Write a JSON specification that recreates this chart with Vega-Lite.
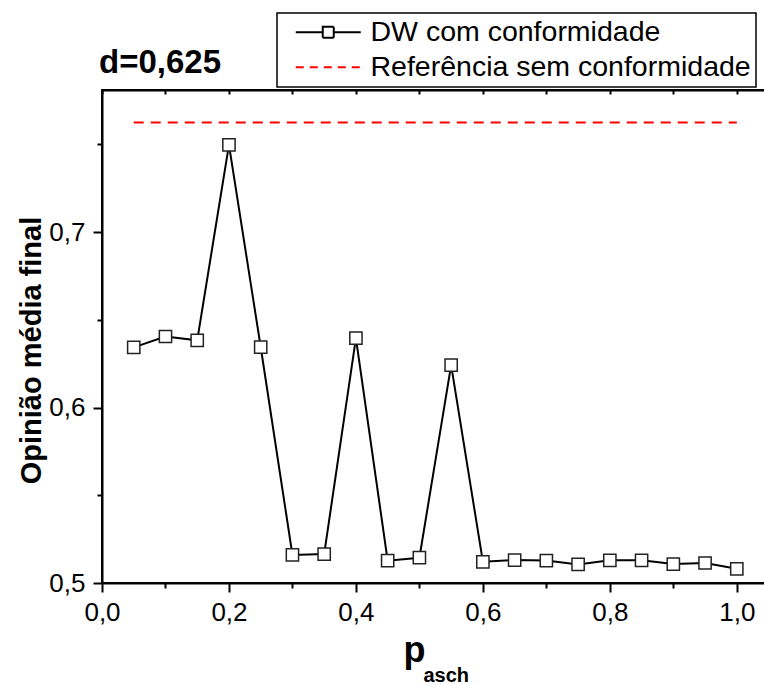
{
  "$schema": "https://vega.github.io/schema/vega-lite/v6.json",
  "autosize": {"type": "none"},
  "width": 664,
  "height": 493,
  "padding": {"left": 102, "top": 90, "right": 0, "bottom": 101},
  "background": "white",
  "config": {
    "font": "Liberation Sans",
    "view": {"stroke": "black", "strokeWidth": 2},
    "axis": {
      "domainColor": "black",
      "domainWidth": 2,
      "tickColor": "black",
      "tickWidth": 2,
      "grid": false,
      "labelFont": "Liberation Sans",
      "labelFontSize": 26,
      "labelColor": "black",
      "titleColor": "black",
      "titleFont": "Liberation Sans",
      "titleFontWeight": "bold"
    }
  },
  "title": {
    "text": "d=0,625",
    "anchor": "start",
    "frame": "group",
    "fontSize": 33,
    "fontWeight": "bold",
    "font": "Liberation Sans",
    "color": "black",
    "baseline": "alphabetic",
    "offset": 15,
    "dx": -3,
    "dy": 109
  },
  "datasets": {
    "dw": [
      {"p": 0.05, "y": 0.6343, "serie": "DW com conformidade"},
      {"p": 0.10, "y": 0.6405, "serie": "DW com conformidade"},
      {"p": 0.15, "y": 0.6383, "serie": "DW com conformidade"},
      {"p": 0.20, "y": 0.7497, "serie": "DW com conformidade"},
      {"p": 0.25, "y": 0.6345, "serie": "DW com conformidade"},
      {"p": 0.30, "y": 0.5160, "serie": "DW com conformidade"},
      {"p": 0.35, "y": 0.5165, "serie": "DW com conformidade"},
      {"p": 0.40, "y": 0.6396, "serie": "DW com conformidade"},
      {"p": 0.45, "y": 0.5127, "serie": "DW com conformidade"},
      {"p": 0.50, "y": 0.5144, "serie": "DW com conformidade"},
      {"p": 0.55, "y": 0.6242, "serie": "DW com conformidade"},
      {"p": 0.60, "y": 0.5121, "serie": "DW com conformidade"},
      {"p": 0.65, "y": 0.5131, "serie": "DW com conformidade"},
      {"p": 0.70, "y": 0.5128, "serie": "DW com conformidade"},
      {"p": 0.75, "y": 0.5106, "serie": "DW com conformidade"},
      {"p": 0.80, "y": 0.5129, "serie": "DW com conformidade"},
      {"p": 0.85, "y": 0.5129, "serie": "DW com conformidade"},
      {"p": 0.90, "y": 0.5108, "serie": "DW com conformidade"},
      {"p": 0.95, "y": 0.5114, "serie": "DW com conformidade"},
      {"p": 1.00, "y": 0.5081, "serie": "DW com conformidade"}
    ],
    "ref": [
      {"p": 0.05, "y": 0.7625, "serie": "Referência sem conformidade"},
      {"p": 1.00, "y": 0.7625, "serie": "Referência sem conformidade"}
    ]
  },
  "resolve": {"axis": {"x": "independent"}},
  "layer": [
    {
      "data": {"name": "dw"},
      "mark": {"type": "line", "strokeWidth": 2, "clip": false},
      "encoding": {
        "x": {
          "field": "p", "type": "quantitative",
          "scale": {"domain": [0, 1.046], "nice": false, "zero": false},
          "axis": {
            "orient": "bottom",
            "values": [0, 0.2, 0.4, 0.6, 0.8, 1.0],
            "labelExpr": "replace(format(datum.value, '.1f'), '.', ',')",
            "tickSize": 9,
            "labelPadding": 7,
            "labelFlush": false,
            "labelOverlap": false,
            "title": "p",
            "titleFontSize": 36,
            "titleAlign": "center",
            "titleBaseline": "alphabetic",
            "titleX": 312,
            "titleY": 78
          }
        },
        "y": {
          "field": "y", "type": "quantitative",
          "scale": {"domain": [0.5, 0.781], "nice": false, "zero": false},
          "axis": {
            "values": [0.5, 0.55, 0.6, 0.65, 0.7, 0.75],
            "labelExpr": "round(datum.value*20) % 2 === 0 ? replace(format(datum.value, '.1f'), '.', ',') : ''",
            "tickSize": {"condition": {"test": "round(datum.value*20) % 2 === 0", "value": 9}, "value": 5},
            "labelPadding": 8,
            "labelFlush": false,
            "labelOverlap": false,
            "title": "Opinião média final",
            "titleFontSize": 29,
            "titleAngle": 270,
            "titleAlign": "center",
            "titleBaseline": "alphabetic",
            "titleX": -62,
            "titleY": 260
          }
        },
        "color": {
          "field": "serie", "type": "nominal",
          "scale": {"domain": ["DW com conformidade", "Referência sem conformidade"], "range": ["black", "#ff0000"]},
          "legend": {
            "title": null,
            "orient": "none",
            "legendX": 175,
            "legendY": -77,
            "padding": 5,
            "strokeColor": "black",
            "fillColor": "white",
            "labelFontSize": 28.5,
            "labelFont": "Liberation Sans",
            "labelColor": "black",
            "labelLimit": 500,
            "symbolSize": 400,
            "symbolStrokeWidth": 2,
            "symbolOffset": 32,
            "labelOffset": 28,
            "rowPadding": 6,
            "symbolType": "M-3.25,0H3.25",
            "encode": {
              "legend": {
                "update": {"strokeWidth": {"value": 1.5}}
              },
              "symbols": {
                "update": {
                  "shape": {"signal": "datum.value === 'DW com conformidade' ? 'M-3.25,0H-0.55M0.55,0H3.25M-0.55,-0.55H0.55V0.55H-0.55Z' : 'M-3.25,0H3.25'"},
                  "fill": {"value": "white"},
                  "strokeDash": {"signal": "datum.value === 'DW com conformidade' ? [1,0] : [8,6]"}
                }
              }
            }
          }
        }
      }
    },
    {
      "data": {"name": "dw"},
      "mark": {"type": "point", "shape": "square", "size": 150, "filled": true, "fill": "white", "stroke": "#222222", "strokeWidth": 1.5, "opacity": 1, "clip": false},
      "encoding": {
        "x": {"field": "p", "type": "quantitative", "axis": null},
        "y": {"field": "y", "type": "quantitative"}
      }
    },
    {
      "data": {"name": "ref"},
      "mark": {"type": "line", "strokeWidth": 2, "strokeDash": [10, 7]},
      "encoding": {
        "x": {
          "field": "p", "type": "quantitative",
          "axis": {
            "orient": "top",
            "values": [0, 0.1, 0.2, 0.3, 0.4, 0.5, 0.6, 0.7, 0.8, 0.9, 1.0],
            "labels": false,
            "domain": true,
            "ticks": true,
            "tickSize": -4,
            "title": null
          }
        },
        "y": {"field": "y", "type": "quantitative"},
        "color": {"field": "serie", "type": "nominal"}
      }
    },
    {
      "data": {"name": "ref"},
      "mark": {"type": "rule", "opacity": 0},
      "encoding": {
        "x": {
          "field": "p", "type": "quantitative",
          "axis": {
            "orient": "bottom",
            "values": [0.1, 0.3, 0.5, 0.7, 0.9],
            "domain": false,
            "ticks": true,
            "tickSize": 5,
            "labels": false,
            "title": "asch",
            "titleFontSize": 20,
            "titleAlign": "left",
            "titleBaseline": "alphabetic",
            "titleX": 321,
            "titleY": 98
          }
        }
      }
    }
  ]
}
